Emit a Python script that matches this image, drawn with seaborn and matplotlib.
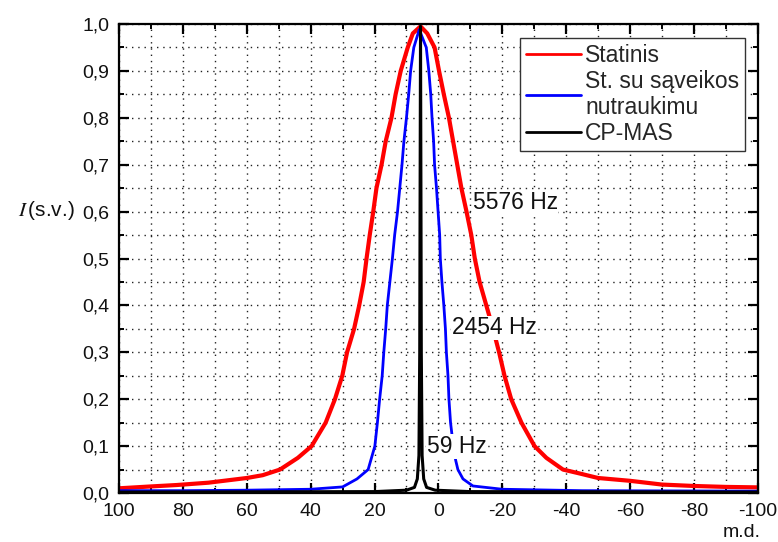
import matplotlib
matplotlib.use("Agg")
import matplotlib.pyplot as plt
import matplotlib.ticker as mticker
import numpy as np
import pandas as pd
import seaborn as sns

# ---- data ----
red_x = [100, 90, 82, 72, 60, 55, 49.6, 44, 39.7, 35.3, 32.4, 30.1, 28.6, 26.4, 24.8, 23.4,
         22.5, 21.5, 20.4, 19.4, 17.8, 16.5, 14.7, 13.4, 11.8, 9.6, 8.0, 5.6, 3.5, 1.2, -0.2,
         -1.7, -3.3, -4.6, -5.9, -7.2, -8.8, -10.3, -11.4, -12.9, -15.0, -17.1, -19.0, -20.7,
         -22.8, -26.0, -30.1, -33.8, -39.0, -44.0, -50.0, -60.0, -70.0, -80.0, -90.0, -100.0]
red_y = [0.010, 0.014, 0.017, 0.022, 0.032, 0.038, 0.050, 0.075, 0.100, 0.150, 0.200, 0.250,
         0.300, 0.350, 0.400, 0.450, 0.500, 0.550, 0.600, 0.650, 0.700, 0.750, 0.800, 0.850,
         0.900, 0.950, 0.980, 0.995, 0.980, 0.950, 0.900, 0.850, 0.800, 0.750, 0.700, 0.650,
         0.600, 0.550, 0.500, 0.450, 0.400, 0.350, 0.300, 0.250, 0.200, 0.150, 0.100, 0.075,
         0.050, 0.042, 0.032, 0.026, 0.018, 0.015, 0.013, 0.012]

blue_x = [100, 80, 60, 40, 30, 25.5, 22.0, 19.9, 19.1, 18.4, 17.6, 17.1, 16.5, 16.0, 15.2,
          14.4, 13.7, 12.8, 12.1, 11.4, 10.8, 10.0, 9.3, 8.7, 7.7, 6.0, 3.8, 3.0, 2.4, 2.0,
          1.5, 1.2, 0.6, 0.1, -0.4, -0.6, -1.1, -1.7, -2.2, -2.5, -3.0, -3.3, -3.8, -4.5,
          -5.4, -6.1, -7.7, -10.8, -20.0, -45.0, -100.0]
blue_y = [0.005, 0.005, 0.006, 0.008, 0.013, 0.030, 0.050, 0.100, 0.150, 0.200, 0.250, 0.300,
          0.350, 0.400, 0.450, 0.500, 0.550, 0.600, 0.650, 0.700, 0.750, 0.800, 0.850, 0.900,
          0.950, 0.988, 0.950, 0.900, 0.850, 0.800, 0.750, 0.700, 0.650, 0.600, 0.550, 0.500,
          0.450, 0.400, 0.350, 0.300, 0.250, 0.200, 0.150, 0.110, 0.070, 0.050, 0.030, 0.015,
          0.008, 0.005, 0.004]

black_x = [100, 20, 10, 7.5, 6.6, 6.1, 5.85, 5.75, 5.6, 5.45, 5.35, 5.1, 4.6, 3.7, 1.0, -10, -100]
black_y = [0.002, 0.003, 0.006, 0.012, 0.030, 0.080, 0.300, 0.600, 0.995, 0.600, 0.300, 0.080,
           0.030, 0.012, 0.006, 0.003, 0.002]

series_names = ["Statinis", "St. su sąveikos\nnutraukimu", "CP-MAS"]
series_colors = ["#ff0000", "#0000ff", "#000000"]

x_ticks = [100, 80, 60, 40, 20, 0, -20, -40, -60, -80, -100]
y_ticks = [0.0, 0.1, 0.2, 0.3, 0.4, 0.5, 0.6, 0.7, 0.8, 0.9, 1.0]

ann_texts = ["5576 Hz", "2454 Hz", "59 Hz"]
ann_x = [-10.7, -4.2, 3.7]
ann_y = [0.619, 0.352, 0.099]

# ---- plotting ----
sns.set_style("ticks")
plt.rcParams["font.family"] = ["Liberation Sans", "DejaVu Sans"]
plt.rcParams["axes.unicode_minus"] = False
plt.rcParams["mathtext.fontset"] = "stix"

df = pd.concat([
    pd.DataFrame({"x": red_x, "y": red_y, "s": series_names[0]}),
    pd.DataFrame({"x": blue_x, "y": blue_y, "s": series_names[1]}),
    pd.DataFrame({"x": black_x, "y": black_y, "s": series_names[2]}),
], ignore_index=True)

fig = plt.figure(figsize=(7.78, 5.42), dpi=100)
ax = fig.add_axes([0.153, 0.0904, 0.821, 0.8653])

lws = [3.0, 2.0, 2.2]
for name, col, lw in zip(series_names, series_colors, lws):
    sub = df[df["s"] == name]
    sns.lineplot(data=sub, x="x", y="y", color=col, linewidth=lw, label=name,
                 ax=ax, sort=False, estimator=None, zorder=3)

ax.set_xlim(100, -100)
ax.set_ylim(0, 1.0)
ax.set_xticks(x_ticks)
ax.xaxis.set_minor_locator(mticker.MultipleLocator(10))
ax.set_yticks(y_ticks)
ax.yaxis.set_minor_locator(mticker.MultipleLocator(0.05))
ax.yaxis.set_major_formatter(mticker.FuncFormatter(lambda v, p: f"{v:.1f}".replace(".", ",")))
ax.xaxis.set_major_formatter(mticker.FuncFormatter(lambda v, p: f"{v:.0f}"))

ax.grid(True, which="both", color="#222222", linestyle=(0, (1, 3.5)), linewidth=1.0, zorder=0)
ax.set_axisbelow(True)

for sp in ax.spines.values():
    sp.set_visible(True)
    sp.set_linewidth(1.6)
    sp.set_color("black")
    sp.set_zorder(5)

ax.tick_params(which="both", direction="in", top=True, right=True, color="black",
               labelsize=14, labelcolor="#111111")
ax.tick_params(which="major", length=7, width=1.6, pad=7)
ax.tick_params(which="minor", length=3.5, width=1.4)

ax.set_ylabel(r"$I\,$(s.v.)", rotation=0, ha="right", va="center", fontsize=15, color="#111111")
ax.yaxis.set_label_coords(-0.069, 0.603)
ax.set_xlabel("m.d.", ha="right", va="center", fontsize=14, color="#111111")
ax.xaxis.set_label_coords(1.004, -0.085)

for t, xx, yy in zip(ann_texts, ann_x, ann_y):
    ax.text(xx, yy, t, ha="left", va="center", fontsize=16.5, color="#111111", zorder=6,
            bbox=dict(facecolor="white", edgecolor="none", pad=0.5))

leg = ax.legend(loc="upper right", bbox_to_anchor=(0.98, 0.97), borderaxespad=0,
                frameon=True, fancybox=False, framealpha=1, edgecolor="#333333",
                fontsize=16.5, handlelength=2.4, handletextpad=0.2, labelspacing=0.12,
                borderpad=0.25)
leg.get_frame().set_linewidth(1.0)
leg.set_zorder(10)
for h in leg.get_lines():
    h.set_linewidth(2.0)

fig.savefig("out.png", dpi=100)
